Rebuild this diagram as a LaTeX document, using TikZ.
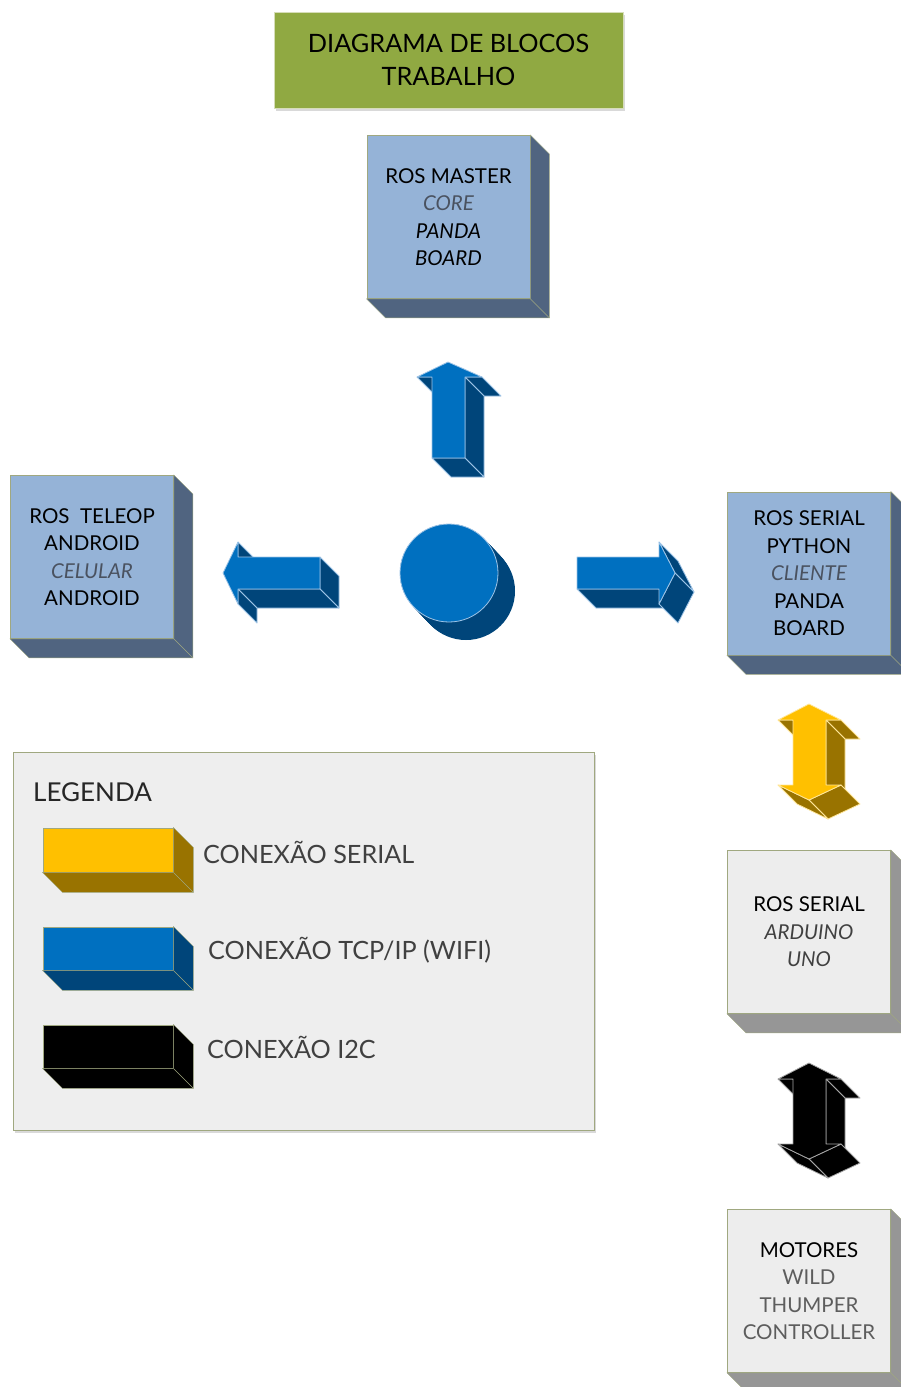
\documentclass[tikz,border=0pt]{standalone}
\usepackage{fontspec}
\setmainfont{Lato}
\usetikzlibrary{shadows}

\definecolor{titlegreen}{RGB}{144,169,66}
\definecolor{titleedge}{RGB}{214,221,184}
\definecolor{blockfront}{RGB}{149,179,215}
\definecolor{blockside}{RGB}{80,100,128}
\definecolor{greyfront}{RGB}{237,237,237}
\definecolor{greyside}{RGB}{150,150,150}
\definecolor{edgecol}{RGB}{160,168,128}
\definecolor{legendfill}{RGB}{238,238,238}
\definecolor{yellowfront}{RGB}{255,192,0}
\definecolor{yellowside}{RGB}{153,115,0}
\definecolor{yellowedge}{RGB}{255,230,153}
\definecolor{bluefront}{RGB}{0,112,192}
\definecolor{blueside}{RGB}{0,69,122}
\definecolor{blueedge}{RGB}{157,195,230}
\definecolor{blackedge}{RGB}{166,166,166}
\definecolor{notecol}{RGB}{74,82,96}
\definecolor{legendtext}{RGB}{64,64,64}

\newcommand\blockside[3][19]{%
  \filldraw[fill=#3, draw=edgecol] (#2.north east) -- ++(#1,#1) -- ([shift={(#1,#1)}]#2.south east)
    -- ([shift={(#1,#1)}]#2.south west) -- (#2.south west) -- (#2.south east) -- cycle;
  \draw[edgecol] (#2.south east) -- ++(#1,#1);}

\newcommand\twoway[4]{%
  \begin{scope}[shift={(#1)}, fill=#3, draw=#4, line width=0.8pt, line join=round]
    \filldraw (-16,16) -- (-31,16) -- (-12,35) -- (3,35) -- cycle;
    \filldraw (32,16) -- (17,16) -- (36,35) -- (51,35) -- cycle;
    \filldraw (17,16) -- (17,81) -- (36,100) -- (36,35) -- cycle;
    \filldraw (32,81) -- (0,96) -- (19,115) -- (51,100) -- cycle;
    \filldraw (0,96) -- (-31,81) -- (-12,100) -- (19,115) -- cycle;
    \filldraw[fill=#2] (0,0) -- (32,16) -- (17,16) -- (17,81) -- (32,81) -- (0,96)
      -- (-31,81) -- (-16,81) -- (-16,16) -- (-31,16) -- cycle;
  \end{scope}}

\begin{document}
\begin{tikzpicture}[x=1pt, y=-1pt,
    titlebox/.style ={rectangle, fill=titlegreen, draw=titleedge, line width=0.8pt,
      minimum width=349pt, minimum height=96pt, align=center,
      font=\fontsize{25.3}{33}\selectfont,
      drop shadow={shadow xshift=2pt, shadow yshift=-3pt, opacity=.3}},
    rosblock/.style ={rectangle, fill=blockfront, draw=edgecol, line width=0.8pt,
      minimum width=163pt, minimum height=163pt, inner sep=0pt, align=center,
      font=\fontsize{20.5}{27.5}\selectfont},
    hwblock/.style ={rosblock, fill=greyfront},
    legendbox/.style ={rectangle, fill=legendfill, draw=edgecol, line width=0.8pt,
      minimum width=581pt, minimum height=378pt,
      drop shadow={shadow xshift=2pt, shadow yshift=-3pt, opacity=.3}},
    legendkey/.style ={rectangle, draw=edgecol, line width=0.8pt,
      minimum width=130pt, minimum height=43pt, inner sep=0pt},
    legendlabel/.style ={anchor=west, inner sep=0pt, text=legendtext,
      font=\fontsize{25.2}{30}\selectfont},
    wifi/.style ={fill=blueside, draw=blueedge, line width=0.8pt, line join=round}]
   \useasboundingbox (0,0) rectangle (900,1387);

   \node[titlebox] (title) at (448.5,60) {DIAGRAMA DE BLOCOS\\TRABALHO};

   \node[rosblock] (master) at (448.5,217)
     {ROS MASTER\\\textcolor{notecol}{\itshape CORE}\\\textit{PANDA}\\\textit{BOARD}};
   \blockside{master}{blockside}

   \node[rosblock] (teleop) at (92,557)
     {ROS~ TELEOP\\ANDROID\\\textcolor{notecol}{\itshape CELULAR}\\ANDROID};
   \blockside{teleop}{blockside}

   \node[rosblock] (client) at (809,573.5)
     {ROS SERIAL\\PYTHON\\\textcolor{notecol}{\itshape CLIENTE}\\PANDA\\BOARD};
   \blockside{client}{blockside}

   \node[hwblock] (arduino) at (809,932)
     {ROS SERIAL\\\textcolor{legendtext}{\itshape ARDUINO}\\\textcolor{legendtext}{\itshape UNO}};
   \blockside{arduino}{greyside}

   \node[hwblock] (motors) at (809,1291)
     {MOTORES\\\textcolor{legendtext!85}{WILD}\\\textcolor{legendtext!85}{THUMPER}\\\textcolor{legendtext!85}{CONTROLLER}};
   \blockside{motors}{greyside}

   \coordinate (hubc) at (449,573);
   \foreach \t in {0,1,...,18}
     \fill[blueside] ([shift={(\t*17/18,\t)}]hubc) circle (49pt);
   \node[circle, fill=bluefront, draw=blueedge, line width=0.8pt, minimum size=98pt] (hub) at (hubc) {};

   \filldraw[wifi] (432,377) -- (417,377) -- (436,396) -- (451,396) -- cycle;
   \filldraw[wifi] (482,377) -- (465,377) -- (484,396) -- (501,396) -- cycle;
   \filldraw[wifi] (465,377) -- (465,458) -- (484,477) -- (484,396) -- cycle;
   \filldraw[wifi] (465,458) -- (432,458) -- (451,477) -- (484,477) -- cycle;
   \filldraw[wifi, fill=bluefront] (448,362) -- (482,377) -- (465,377) -- (465,458)
     -- (432,458) -- (432,377) -- (417,377) -- cycle;

   \filldraw[wifi] (238,542) -- (238,557) -- (257,576) -- (257,561) -- cycle;
   \filldraw[wifi] (320,557) -- (320,589) -- (339,608) -- (339,576) -- cycle;
   \filldraw[wifi] (320,589) -- (238,589) -- (257,608) -- (339,608) -- cycle;
   \filldraw[wifi] (238,589) -- (238,604) -- (257,623) -- (257,608) -- cycle;
   \filldraw[wifi, fill=bluefront] (223,573) -- (238,542) -- (238,557) -- (320,557)
     -- (320,589) -- (238,589) -- (238,604) -- cycle;

   \filldraw[wifi] (659,589) -- (577,589) -- (596,608) -- (678,608) -- cycle;
   \filldraw[wifi] (659,542) -- (675,573) -- (694,592) -- (678,561) -- cycle;
   \filldraw[wifi] (675,573) -- (659,604) -- (678,623) -- (694,592) -- cycle;
   \filldraw[wifi, fill=bluefront] (577,557) -- (659,557) -- (659,542) -- (675,573)
     -- (659,604) -- (659,589) -- (577,589) -- cycle;

   \twoway{809,704}{yellowfront}{yellowside}{yellowedge}
   \twoway{809,1063}{black}{black}{blackedge}

   \node[legendbox] (legend) at (303.5,941) {};
   \node[anchor=west, inner sep=0pt, text=black!85, font=\fontsize{26}{30}\selectfont]
     (legendtitle) at (33,792) {LEGENDA};

   \node[legendkey, fill=yellowfront, minimum height=44pt] (keyserial) at (108,850) {};
   \blockside[20]{keyserial}{yellowside}
   \node[legendlabel] (txtserial) at (203,852) {CONEXÃO SERIAL};

   \node[legendkey, fill=bluefront] (keytcp) at (108,948.5) {};
   \blockside[20]{keytcp}{blueside}
   \node[legendlabel] (txttcp) at (208,950) {CONEXÃO TCP/IP (WIFI)};

   \node[legendkey, fill=black] (keyitwoc) at (108,1046.5) {};
   \blockside[20]{keyitwoc}{black}
   \node[legendlabel] (txtitwoc) at (207,1047) {CONEXÃO I2C};
 \end{tikzpicture}
\end{document}
